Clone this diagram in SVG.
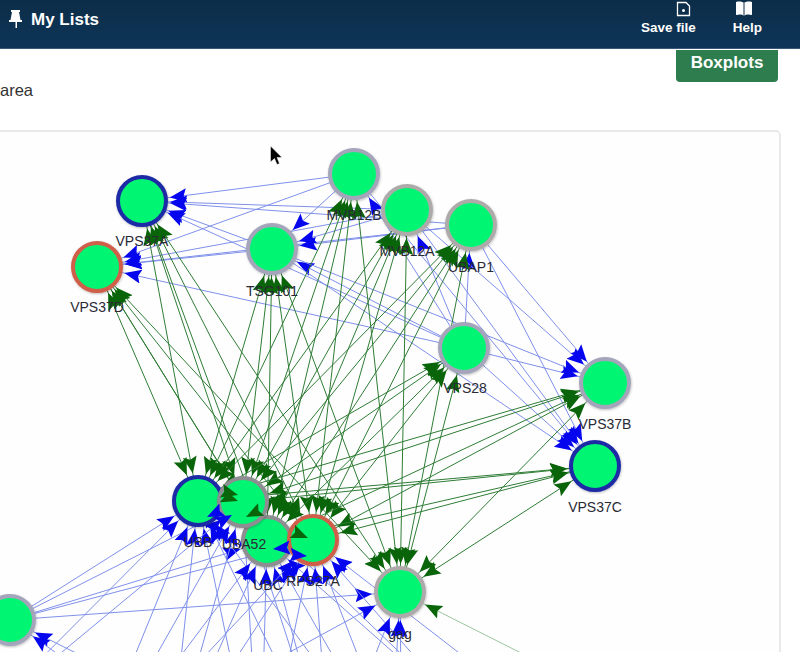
<svg xmlns="http://www.w3.org/2000/svg" width="800" height="652" viewBox="0 0 800 652">
<style>
text{font-family:"Liberation Sans",Arial,sans-serif}
.lbl{font-size:14px;fill:#2a2a35;text-anchor:middle}
.b line{stroke:#7f90ea;stroke-width:1;marker-end:url(#hb)}
.g line{stroke:#2f7d35;stroke-width:1;marker-start:url(#hg);marker-end:url(#hg)}
.n circle{fill:#02f573;stroke-width:4;filter:url(#sh)}
.lav circle{stroke:#a4a5ba}
.gry circle{stroke:#aeaaaa}
.dk circle{stroke:#8e8e92}
.nav circle{stroke:#1f2aa6}
.red circle{stroke:#cf5f4a}
.h{fill:#fff;font-weight:bold}
</style>
<defs>
<linearGradient id="hd" x1="0" y1="0" x2="0" y2="1"><stop offset="0" stop-color="#0c2d48"/><stop offset="1" stop-color="#0e3558"/></linearGradient>
<filter id="sh" x="-20%" y="-20%" width="140%" height="140%"><feDropShadow dx="0.5" dy="1" stdDeviation="1.2" flood-color="#000" flood-opacity="0.25"/></filter>
<marker id="hb" markerUnits="userSpaceOnUse" markerWidth="18" markerHeight="16" refX="45" refY="8" orient="auto-start-reverse"><path d="M0,1L17,8L0,15L3,8Z" fill="#0505ee"/></marker>
<marker id="hg" markerUnits="userSpaceOnUse" markerWidth="18" markerHeight="16" refX="45" refY="8" orient="auto-start-reverse"><path d="M0,1L17,8L0,15L3,8Z" fill="#0a650a"/></marker>
<marker id="tb" markerUnits="userSpaceOnUse" markerWidth="18" markerHeight="16" refX="17" refY="8" orient="auto"><path d="M0,1L17,8L0,15L3,8Z" fill="#0505ee"/></marker>
<marker id="tg" markerUnits="userSpaceOnUse" markerWidth="18" markerHeight="16" refX="17" refY="8" orient="auto"><path d="M0,1L17,8L0,15L3,8Z" fill="#0a650a"/></marker>
</defs>
<rect width="800" height="652" fill="#fff"/>
<rect x="-6" y="131" width="786" height="560" rx="4" fill="#fefeff" stroke="#e2e2e2" stroke-width="1.500"/>
<g id="connectors">
<g class="b">
<line x1="354" y1="174" x2="142" y2="201"/><line x1="407" y1="210" x2="142" y2="201"/><line x1="471" y1="225" x2="142" y2="201"/><line x1="272" y1="249" x2="142" y2="201"/><line x1="464" y1="348" x2="142" y2="201"/>
<line x1="354" y1="174" x2="97" y2="267"/><line x1="407" y1="210" x2="97" y2="267"/><line x1="471" y1="225" x2="97" y2="267"/><line x1="272" y1="249" x2="97" y2="267"/><line x1="464" y1="348" x2="97" y2="267"/>
<line x1="354" y1="174" x2="272" y2="249"/><line x1="407" y1="210" x2="272" y2="249"/><line x1="471" y1="225" x2="272" y2="249"/><line x1="464" y1="348" x2="272" y2="249"/>
<line x1="464" y1="348" x2="354" y2="174"/><line x1="464" y1="348" x2="407" y2="210"/><line x1="464" y1="348" x2="471" y2="225"/>
<line x1="407" y1="210" x2="605" y2="383"/><line x1="471" y1="225" x2="605" y2="383"/><line x1="464" y1="348" x2="605" y2="383"/><line x1="272" y1="249" x2="605" y2="383"/>
<line x1="354" y1="174" x2="595" y2="466"/><line x1="407" y1="210" x2="595" y2="466"/><line x1="471" y1="225" x2="595" y2="466"/><line x1="272" y1="249" x2="595" y2="466"/><line x1="464" y1="348" x2="595" y2="466"/>
<line x1="10" y1="620" x2="198" y2="501"/><line x1="10" y1="620" x2="243" y2="502"/><line x1="10" y1="620" x2="267" y2="541"/><line x1="10" y1="620" x2="313" y2="540"/><line x1="10" y1="620" x2="400" y2="592"/>
<line x1="80" y1="790" x2="198" y2="501"/><line x1="170" y1="760" x2="198" y2="501"/><line x1="260" y1="800" x2="198" y2="501"/><line x1="330" y1="770" x2="198" y2="501"/><line x1="410" y1="790" x2="198" y2="501"/><line x1="-20" y1="720" x2="198" y2="501"/>
<line x1="80" y1="790" x2="243" y2="502"/><line x1="170" y1="760" x2="243" y2="502"/><line x1="260" y1="800" x2="243" y2="502"/><line x1="330" y1="770" x2="243" y2="502"/><line x1="470" y1="720" x2="243" y2="502"/><line x1="-20" y1="720" x2="243" y2="502"/>
<line x1="80" y1="790" x2="267" y2="541"/><line x1="170" y1="760" x2="267" y2="541"/><line x1="260" y1="800" x2="267" y2="541"/><line x1="330" y1="770" x2="267" y2="541"/><line x1="410" y1="790" x2="267" y2="541"/><line x1="470" y1="720" x2="267" y2="541"/>
<line x1="170" y1="760" x2="313" y2="540"/><line x1="260" y1="800" x2="313" y2="540"/><line x1="330" y1="770" x2="313" y2="540"/><line x1="410" y1="790" x2="313" y2="540"/><line x1="470" y1="720" x2="313" y2="540"/><line x1="520" y1="700" x2="313" y2="540"/><line x1="80" y1="790" x2="313" y2="540"/>
<line x1="290" y1="652" x2="400" y2="592"/><line x1="330" y1="770" x2="400" y2="592"/><line x1="390" y1="780" x2="400" y2="592"/><line x1="402" y1="780" x2="400" y2="592"/>
<line x1="80" y1="670" x2="10" y2="620"/><line x1="100" y1="665" x2="10" y2="620"/>
</g>
<g class="g">
<line x1="142" y1="201" x2="198" y2="501"/><line x1="142" y1="201" x2="243" y2="502"/><line x1="142" y1="201" x2="267" y2="541"/><line x1="142" y1="201" x2="313" y2="540"/><line x1="142" y1="201" x2="400" y2="592"/>
<line x1="97" y1="267" x2="198" y2="501"/><line x1="97" y1="267" x2="243" y2="502"/><line x1="97" y1="267" x2="267" y2="541"/><line x1="97" y1="267" x2="313" y2="540"/><line x1="97" y1="267" x2="400" y2="592"/>
<line x1="272" y1="249" x2="198" y2="501"/><line x1="272" y1="249" x2="243" y2="502"/><line x1="272" y1="249" x2="267" y2="541"/><line x1="272" y1="249" x2="313" y2="540"/><line x1="272" y1="249" x2="400" y2="592"/>
<line x1="354" y1="174" x2="198" y2="501"/><line x1="354" y1="174" x2="243" y2="502"/><line x1="354" y1="174" x2="267" y2="541"/><line x1="354" y1="174" x2="313" y2="540"/><line x1="354" y1="174" x2="400" y2="592"/>
<line x1="407" y1="210" x2="198" y2="501"/><line x1="407" y1="210" x2="243" y2="502"/><line x1="407" y1="210" x2="267" y2="541"/><line x1="407" y1="210" x2="313" y2="540"/><line x1="407" y1="210" x2="400" y2="592"/>
<line x1="471" y1="225" x2="198" y2="501"/><line x1="471" y1="225" x2="243" y2="502"/><line x1="471" y1="225" x2="267" y2="541"/><line x1="471" y1="225" x2="313" y2="540"/><line x1="471" y1="225" x2="400" y2="592"/>
<line x1="464" y1="348" x2="198" y2="501"/><line x1="464" y1="348" x2="243" y2="502"/><line x1="464" y1="348" x2="267" y2="541"/><line x1="464" y1="348" x2="313" y2="540"/><line x1="464" y1="348" x2="400" y2="592"/>
<line x1="605" y1="383" x2="198" y2="501"/><line x1="605" y1="383" x2="243" y2="502"/><line x1="605" y1="383" x2="267" y2="541"/><line x1="605" y1="383" x2="313" y2="540"/><line x1="605" y1="383" x2="400" y2="592"/>
<line x1="595" y1="466" x2="198" y2="501"/><line x1="595" y1="466" x2="243" y2="502"/><line x1="595" y1="466" x2="267" y2="541"/><line x1="595" y1="466" x2="313" y2="540"/><line x1="595" y1="466" x2="400" y2="592"/>
</g>
<line x1="525" y1="655" x2="400" y2="592" stroke="#9cc79c" stroke-width="1" marker-end="url(#hg)"/>
</g>
<g id="header">
<rect width="800" height="48" fill="url(#hd)"/>
<rect y="48" width="800" height="1" fill="#3b5a78"/>
<path d="M11,10H20V12H19L20.500,20H22V22H17V28H15.500V22H9V20H10.500L12,12H11Z" fill="#fff"/>
<text x="31" y="25" class="h" font-size="17">My Lists</text>
<path d="M677.500,2.500H686L689.500,6V15.500H677.500Z" fill="none" stroke="#fff" stroke-width="1.300"/>
<circle cx="683.500" cy="10.500" r="1.500" fill="#fff"/>
<path d="M736,2C740,1 743,2 744,3C745,2 748,1 752,2V15C748,14 745,14.500 744,16C743,14.500 740,14 736,15Z" fill="#fff"/>
<path d="M744,3V16" stroke="#0c2d48" stroke-width="1"/>
<text x="668.500" y="32" class="h" font-size="13.500" text-anchor="middle">Save file</text>
<text x="747.500" y="32" class="h" font-size="13.500" text-anchor="middle">Help</text>
</g>
<g id="boxplots">
<path d="M676,50H778V78Q778,82 774,82H680Q676,82 676,78Z" fill="#2e7d4f"/>
<text x="727" y="68" class="h" font-size="17" text-anchor="middle">Boxplots</text>
</g>
<text x="0" y="96" font-size="16.500" fill="#333">area</text>
<path id="cursor" d="M270.500,146V162L274.500,158.500L277,164.500L279.500,163.500L277,157.500H282Z" fill="#000" stroke="#fff" stroke-width="0.500"/>
<g id="n-vps37a" class="n nav"><circle cx="142" cy="201" r="24"/></g>
<g id="n-vps37d" class="n red"><circle cx="97" cy="267" r="24"/></g>
<g id="n-tsg101" class="n lav"><circle cx="272" cy="249" r="24"/></g>
<g id="n-mvb12b" class="n lav"><circle cx="354" cy="174" r="24"/></g>
<g id="n-mvb12a" class="n gry"><circle cx="407" cy="210" r="24"/></g>
<g id="n-ubap1" class="n gry"><circle cx="471" cy="225" r="24"/></g>
<g id="n-vps28" class="n lav"><circle cx="464" cy="348" r="24"/></g>
<g id="n-vps37b" class="n lav"><circle cx="605" cy="383" r="24"/></g>
<g id="n-vps37c" class="n nav"><circle cx="595" cy="466" r="24"/></g>
<g id="n-ubb" class="n nav"><circle cx="198" cy="501" r="24"/></g>
<g id="n-ubc" class="n dk"><circle cx="267" cy="541" r="24"/></g>
<g id="n-uba52" class="n dk"><circle cx="243" cy="502" r="24"/></g>
<g id="n-rps27a" class="n red"><circle cx="313" cy="540" r="24"/></g>
<g id="n-gag" class="n gry"><circle cx="400" cy="592" r="24"/></g>
<g id="n-left" class="n lav"><circle cx="10" cy="620" r="24"/></g>
<g id="connectors-over">
<line x1="243" y1="500" x2="207" y2="517" stroke="none" marker-end="url(#tb)"/>
<line x1="205" y1="530" x2="232" y2="515" stroke="none" marker-end="url(#tb)"/>
<line x1="200" y1="485" x2="238" y2="495" stroke="none" marker-end="url(#tg)"/>
<line x1="205" y1="490" x2="238" y2="501" stroke="none" marker-end="url(#tg)"/>
<line x1="280" y1="500" x2="246" y2="517" stroke="none" marker-end="url(#tg)"/>
<line x1="265" y1="520" x2="308" y2="538" stroke="none" marker-end="url(#tg)"/>
<line x1="320" y1="545" x2="273" y2="549" stroke="none" marker-end="url(#tb)"/>
<line x1="270" y1="553" x2="307" y2="556" stroke="none" marker-end="url(#tb)"/>
</g>
<g id="labels">
<text class="lbl" x="142" y="246">VPS37A</text>
<text class="lbl" x="97" y="312">VPS37D</text>
<text class="lbl" x="272" y="296">TSG101</text>
<text class="lbl" x="354" y="220">MVB12B</text>
<text class="lbl" x="407" y="256">MVB12A</text>
<text class="lbl" x="471" y="272">UBAP1</text>
<text class="lbl" x="465" y="393">VPS28</text>
<text class="lbl" x="605" y="429">VPS37B</text>
<text class="lbl" x="595" y="512">VPS37C</text>
<text class="lbl" x="198" y="547">UBB</text>
<text class="lbl" x="244" y="549">UBA52</text>
<text class="lbl" x="268" y="590">UBC</text>
<text class="lbl" x="313" y="586">RPS27A</text>
<text class="lbl" x="400" y="639">gag</text>
</g>
</svg>
